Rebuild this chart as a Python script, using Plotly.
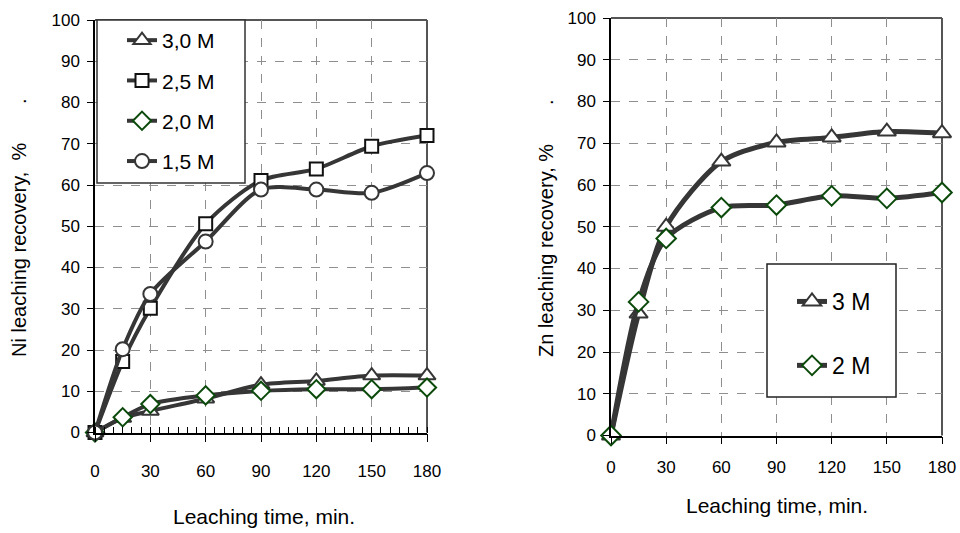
import plotly.graph_objects as go

# ---------------- data ----------------
time_min = [0, 15, 30, 60, 90, 120, 150, 180]

ni_3_0 = [0, 3.5, 5.2, 8.2, 11.6, 12.5, 13.8, 13.8]
ni_2_5 = [0, 17.2, 30.1, 50.6, 61.1, 63.9, 69.4, 72.0]
ni_2_0 = [0, 3.7, 6.9, 9.0, 10.1, 10.5, 10.5, 10.9]
ni_1_5 = [0, 20.2, 33.6, 46.3, 58.9, 58.9, 58.1, 62.9]

zn_3 = [0, 29.2, 50.0, 65.6, 70.2, 71.4, 72.8, 72.4]
zn_2 = [0, 32.0, 47.2, 54.6, 55.2, 57.4, 56.8, 58.2]

ni_names = ["3,0 M", "2,5 M", "2,0 M", "1,5 M"]
zn_names = ["3 M", "2 M"]
x_ticks = [0, 30, 60, 90, 120, 150, 180]
y_ticks = [0, 10, 20, 30, 40, 50, 60, 70, 80, 90, 100]

W, H = 960, 533
def px(xp): return xp / W
def py(yp): return 1 - yp / H

LINE = "#363636"
GREEN = "#0b4a0b"
NB = "\u00a0"

fig = go.Figure()

ni_series = [
    (ni_3_0, ni_names[0], "triangle-up", LINE, 15),
    (ni_2_5, ni_names[1], "square", "#111111", 13),
    (ni_2_0, ni_names[2], "diamond", GREEN, 14),
    (ni_1_5, ni_names[3], "circle", LINE, 14),
]
for vals, name, sym, mcol, msz in ni_series:
    fig.add_trace(go.Scatter(
        x=time_min, y=vals, name=name, mode="lines+markers",
        line=dict(color=LINE, width=4, shape="spline", smoothing=0.8),
        marker=dict(symbol=sym, size=msz, color="white", line=dict(color=mcol, width=2)),
        xaxis="x", yaxis="y", legend="legend", legendgroup=name, cliponaxis=False,
    ))

zn_series = [
    (zn_3, zn_names[0], "triangle-up", LINE, 16),
    (zn_2, zn_names[1], "diamond", GREEN, 15),
]
for vals, name, sym, mcol, msz in zn_series:
    fig.add_trace(go.Scatter(
        x=time_min, y=vals, name=name, mode="lines+markers",
        line=dict(color=LINE, width=5, shape="spline", smoothing=0.8),
        marker=dict(symbol=sym, size=msz, color="white", line=dict(color=mcol, width=2)),
        xaxis="x2", yaxis="y2", legend="legend2", legendgroup=name, cliponaxis=False,
    ))

tickfont = dict(family="Liberation Sans, Arial, sans-serif", size=17, color="black")
common_x = dict(range=[0, 180], tickvals=x_ticks, showline=True, linecolor="black", linewidth=1.5,
                ticks="outside", ticklen=8, tickcolor="black", tickfont=tickfont,
                showgrid=True, gridcolor="#8f8f8f", griddash="dash", gridwidth=1,
                zeroline=False, fixedrange=True)
common_y = dict(range=[0, 100], tickvals=y_ticks, showline=True, linecolor="black", linewidth=1.5,
                ticks="outside", ticklen=6, tickcolor="black", tickfont=tickfont,
                showgrid=True, gridcolor="#8f8f8f", griddash="dash", gridwidth=1,
                zeroline=False, fixedrange=True, ticklabelstandoff=4)

fig.update_layout(
    autosize=True, margin=dict(l=0, r=0, t=0, b=0, autoexpand=False),
    paper_bgcolor="white", plot_bgcolor="white",
    font=dict(family="Liberation Sans, Arial, sans-serif", color="black"),
    xaxis=dict(common_x, domain=[px(95), px(427)], anchor="y", ticklabelstandoff=14,
               minor=dict(ticks="inside", dtick=5, ticklen=6, tickcolor="black", showgrid=False)),
    yaxis=dict(common_y, domain=[py(432.5), py(20)], anchor="x"),
    xaxis2=dict(common_x, domain=[px(611), px(942)], anchor="y2", ticklen=7, ticklabelstandoff=8),
    yaxis2=dict(common_y, domain=[py(435.5), py(18)], anchor="x2"),
    legend=dict(x=px(122), y=py(20), xanchor="left", yanchor="top",
                bgcolor="rgba(0,0,0,0)", borderwidth=0, font=dict(size=21),
                traceorder="grouped", tracegroupgap=10),
    legend2=dict(x=px(792), y=py(280), xanchor="left", yanchor="top",
                 bgcolor="rgba(0,0,0,0)", borderwidth=0, font=dict(size=23),
                 traceorder="grouped", tracegroupgap=31),
    showlegend=True,
)

# plot frames (top / right edges) and legend boxes
for xr, yr in (("x domain", "y domain"), ("x2 domain", "y2 domain")):
    fig.add_shape(type="line", xref=xr, yref=yr, x0=0, x1=1, y0=1, y1=1,
                  line=dict(color="#555555", width=2), layer="below")
    fig.add_shape(type="line", xref=xr, yref=yr, x0=1, x1=1, y0=0, y1=1,
                  line=dict(color="#555555", width=2), layer="below")

fig.add_shape(type="rect", xref="paper", yref="paper",
              x0=px(97), x1=px(245), y0=py(183), y1=py(20),
              line=dict(color="#333333", width=1.5), fillcolor="white", layer="above")
fig.add_shape(type="rect", xref="paper", yref="paper",
              x0=px(767), x1=px(896), y0=py(397), y1=py(264),
              line=dict(color="#222222", width=1.5), fillcolor="white", layer="above")

# axis titles
title_font = dict(family="Liberation Sans, Arial, sans-serif", size=20, color="black")
xt_font = dict(family="Liberation Sans, Arial, sans-serif", size=21, color="black")
fig.add_annotation(text="Ni leaching recovery," + NB * 2 + "%" + NB * 7 + ".", textangle=-90,
                   x=px(19), y=py(228), xref="paper", yref="paper", showarrow=False,
                   xanchor="center", yanchor="middle", font=title_font)
fig.add_annotation(text="Zn leaching recovery," + NB + "%" + NB * 7 + ".", textangle=-90,
                   x=px(546), y=py(228), xref="paper", yref="paper", showarrow=False,
                   xanchor="center", yanchor="middle", font=title_font)
fig.add_annotation(text="Leaching time, min.", x=px(264), y=py(516), xref="paper", yref="paper",
                   showarrow=False, xanchor="center", yanchor="middle", font=xt_font)
fig.add_annotation(text="Leaching time, min.", x=px(777), y=py(505), xref="paper", yref="paper",
                   showarrow=False, xanchor="center", yanchor="middle", font=xt_font)

fig.write_html("out.html", default_width="100%", default_height="100%")
